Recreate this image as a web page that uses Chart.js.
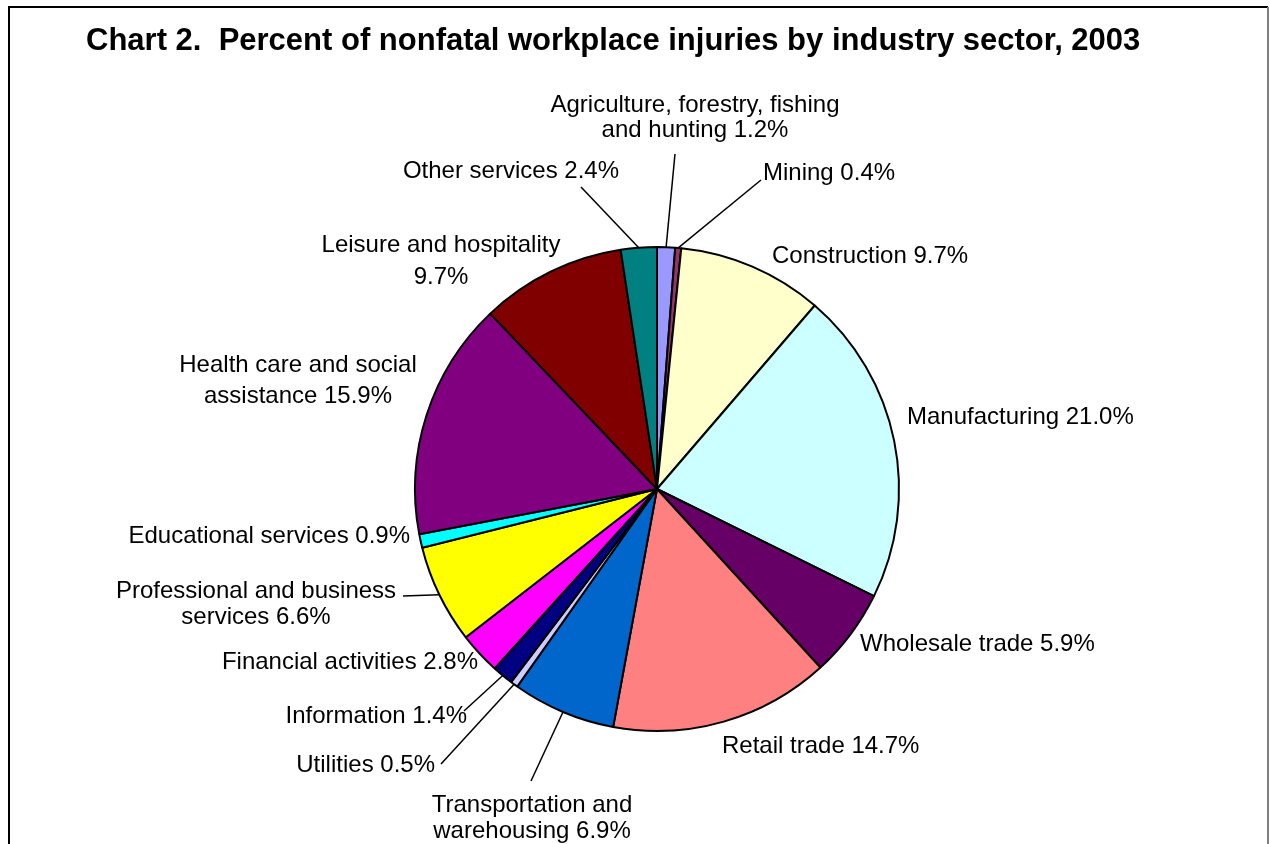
<!DOCTYPE html>
<html>
<head>
<meta charset="utf-8">
<script src="https://cdn.jsdelivr.net/npm/chart.js@4"></script>
<style>
  html, body { margin: 0; padding: 0; background: #fff; }
  #wrap { width: 1270px; height: 844px; }
</style>
</head>
<body>
<div id="wrap"><canvas id="pie" width="1270" height="844"></canvas></div>
<script>
// ── DATA ──
const sectors = [
  'Agriculture, forestry, fishing and hunting', 'Mining', 'Construction',
  'Manufacturing', 'Wholesale trade', 'Retail trade',
  'Transportation and warehousing', 'Utilities', 'Information',
  'Financial activities', 'Professional and business services',
  'Educational services', 'Health care and social assistance',
  'Leisure and hospitality', 'Other services'
];
const percents = [1.2, 0.4, 9.7, 21.0, 5.9, 14.7, 6.9, 0.5, 1.4, 2.8, 6.6, 0.9, 15.9, 9.7, 2.4];
const sliceColors = [
  '#9999ff', '#993366', '#ffffcc', '#ccffff', '#660066', '#ff8080', '#0066cc',
  '#ccccff', '#000080', '#ff00ff', '#ffff00', '#00ffff', '#800080', '#800000', '#008080'
];
const TITLE = 'Chart 2.  Percent of nonfatal workplace injuries by industry sector, 2003';

// ── LABEL PLACEMENT (x, baselines, alignment, words on first line, leader end) ──
const labelSpots = [
  { x: 695, y: [112, 137], align: 'center', br: 3, lead: [675, 154] },
  { x: 763, y: [180], align: 'left', lead: [761, 180] },
  { x: 772, y: [263], align: 'left' },
  { x: 907, y: [424], align: 'left' },
  { x: 860, y: [651], align: 'left' },
  { x: 722, y: [753], align: 'left' },
  { x: 532, y: [812, 838], align: 'center', br: 2, lead: [531, 781] },
  { x: 435, y: [772], align: 'right', lead: [441, 764] },
  { x: 467, y: [723], align: 'right', lead: [464, 711] },
  { x: 478, y: [669], align: 'right' },
  { x: 256, y: [598, 624], align: 'center', br: 3, lead: [403, 596] },
  { x: 410, y: [543], align: 'right' },
  { x: 298, y: [372, 403], align: 'center', br: 4 },
  { x: 441, y: [252, 284], align: 'center', br: 3 },
  { x: 619, y: [178], align: 'right', lead: [581, 187] }
];

const LABEL_FONT = '24px "Liberation Sans", Arial, sans-serif';
const TITLE_FONT = 'bold 31px "Liberation Sans", Arial, sans-serif';

function labelLines(i) {
  const text = sectors[i] + ' ' + percents[i].toFixed(1) + '%';
  const spot = labelSpots[i];
  if (!spot.br) return [text];
  const words = text.split(' ');
  return [words.slice(0, spot.br).join(' '), words.slice(spot.br).join(' ')];
}

// ── TITLE, FRAME AND LABELS ──
const decorPlugin = {
  id: 'decor',
  afterDraw(chart) {
    const ctx = chart.ctx;
    ctx.save();

    // frame
    ctx.lineWidth = 2;
    ctx.strokeStyle = '#000';
    ctx.beginPath();
    ctx.moveTo(9, 850); ctx.lineTo(9, 7); ctx.lineTo(1268, 7);
    ctx.stroke();
    ctx.strokeStyle = '#808080';
    ctx.beginPath();
    ctx.moveTo(1268, 7); ctx.lineTo(1268, 850);
    ctx.stroke();

    // title
    ctx.fillStyle = '#000';
    ctx.font = TITLE_FONT;
    ctx.textAlign = 'left';
    ctx.textBaseline = 'alphabetic';
    ctx.fillText(TITLE, 86, 50);

    // labels and leader lines
    const arcs = chart.getDatasetMeta(0).data;
    ctx.font = LABEL_FONT;
    ctx.lineWidth = 1.5;
    ctx.strokeStyle = '#000';
    arcs.forEach((arc, i) => {
      const spot = labelSpots[i];
      const lines = labelLines(i);
      ctx.textAlign = spot.align;
      lines.forEach((ln, k) => ctx.fillText(ln, spot.x, spot.y[k]));
      if (spot.lead) {
        const p = arc.getProps(['x', 'y', 'startAngle', 'endAngle', 'outerRadius'], true);
        const mid = (p.startAngle + p.endAngle) / 2;
        ctx.beginPath();
        ctx.moveTo(spot.lead[0], spot.lead[1]);
        ctx.lineTo(p.x + Math.cos(mid) * p.outerRadius, p.y + Math.sin(mid) * p.outerRadius);
        ctx.stroke();
      }
    });
    ctx.restore();
  }
};

new Chart(document.getElementById('pie'), {
  type: 'pie',
  data: {
    labels: sectors,
    datasets: [{
      data: percents,
      backgroundColor: sliceColors,
      borderColor: '#000',
      borderWidth: 2,
      hoverOffset: 0,
    }]
  },
  options: {
    responsive: false,
    animation: false,
    radius: 242,
    layout: { padding: { left: 357, right: 313, top: 189, bottom: 55 } },
    plugins: {
      legend: { display: false },
      tooltip: { enabled: false },
      title: { display: false }
    }
  },
  plugins: [decorPlugin]
});
</script>
</body>
</html>
